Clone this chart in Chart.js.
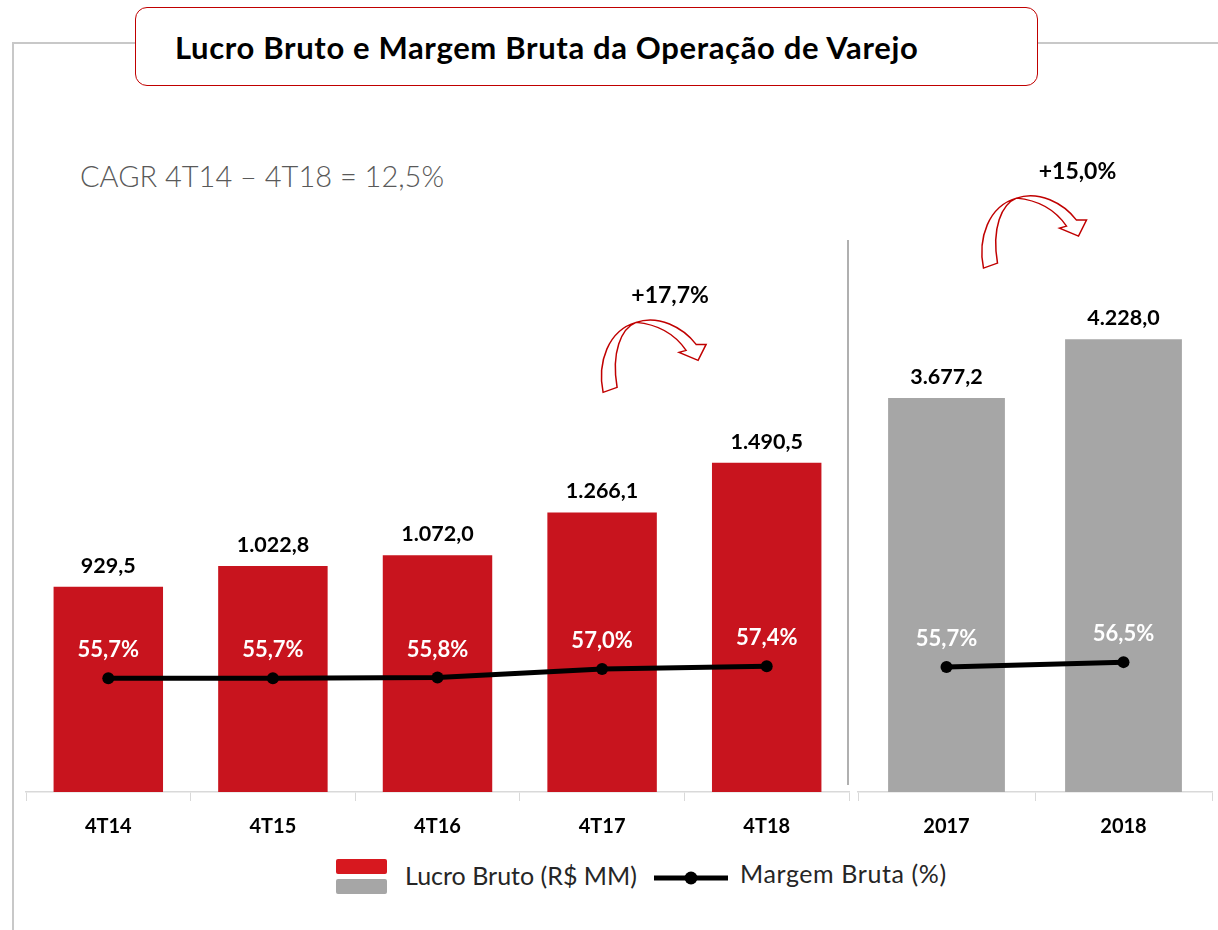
<!DOCTYPE html>
<html lang="pt-BR">
<head>
<meta charset="utf-8">
<script src="https://cdn.jsdelivr.net/npm/chart.js@4.4.1/dist/chart.umd.min.js"></script>
<style>
  body { margin: 0; width: 1218px; height: 930px; background: #fff; position: relative; overflow: hidden; font-family: Lato, 'Open Sans', sans-serif; }
  .line { position: absolute; background: #C8C8C8; }
  .title-box { position: absolute; left: 135px; top: 7px; width: 903px; height: 79px; box-sizing: border-box; border: 1.5px solid #C00000; border-radius: 12px; background: #fff; }
  .title { position: absolute; left: 175px; top: 28px; font-size: 31px; line-height: 38px; letter-spacing: 0.65px; font-weight: 700; color: #000; white-space: nowrap; }
  .cagr { position: absolute; left: 80px; top: 158px; font-size: 29px; font-weight: 300; color: #595959; white-space: nowrap; }
  .sep { position: absolute; left: 847px; top: 240px; width: 2px; height: 545px; background: #B0B0B0; }
  .chart-box { position: absolute; top: 140px; height: 710px; }
  .legend { position: absolute; top: 858px; left: 336px; height: 40px; }
  .sw { position: absolute; left: 0; width: 51px; height: 15px; border-radius: 2px; }
  .lg-text { position: absolute; font-size: 25px; color: #262626; white-space: nowrap; top: 2px; }
</style>
</head>
<body>
<div class="line" style="left:12px; top:42px; width:2px; height:900px;"></div>
<div class="line" style="left:12px; top:42px; width:126px; height:2px;"></div>
<div class="line" style="left:1036px; top:42px; width:182px; height:2px;"></div>
<div class="title-box"></div>
<div class="title">Lucro Bruto e Margem Bruta da Operação de Varejo</div>
<div class="cagr">CAGR 4T14 – 4T18 = 12,5%</div>
<div class="sep"></div>

<div class="chart-box" style="left:20px; width:835px;"><canvas id="quarterChart"></canvas></div>
<div class="chart-box" style="left:852px; width:366px;"><canvas id="yearChart"></canvas></div>

<div class="legend">
  <div class="sw" style="top:1px; background:#D7181F;"></div>
  <div class="sw" style="top:21px; background:#A6A6A6;"></div>
  <div class="lg-text" style="left:69px;">Lucro Bruto (R$ MM)</div>
  <canvas id="lineSample" width="74" height="16" style="position:absolute; left:318px; top:12px;"></canvas>
  <div class="lg-text" style="left:404px; top:0px; letter-spacing:0.6px;">Margem Bruta (%)</div>
</div>

<script>
// dados
const quarterLabels = ['4T14', '4T15', '4T16', '4T17', '4T18'];
const quarterGrossProfit = [929.5, 1022.8, 1072.0, 1266.1, 1490.5];
const quarterMargin = [55.7, 55.7, 55.8, 57.0, 57.4];

const yearLabels = ['2017', '2018'];
const yearGrossProfit = [3677.2, 4228.0];
const yearMargin = [55.7, 56.5];

const quarterGrowth = '+17,7%';
const yearGrowth = '+15,0%';

const RED = '#C8141E';
const GREY = '#A6A6A6';

function fmtNumber(v) {
  return v.toLocaleString('pt-BR', { minimumFractionDigits: 1, maximumFractionDigits: 1 });
}
function fmtPct(v) {
  return v.toLocaleString('pt-BR', { minimumFractionDigits: 1, maximumFractionDigits: 1 }) + '%';
}

// desenha a seta curva (contorno vermelho) a partir da ponta da cauda
function drawCurvedArrow(ctx, x, y) {
  ctx.save();
  ctx.translate(x, y);
  ctx.beginPath();
  ctx.moveTo(0, 0);
  ctx.bezierCurveTo(-6, -30, 5, -62, 33, -70);
  ctx.bezierCurveTo(55, -78, 80, -65, 93, -48);
  ctx.lineTo(103, -48);
  ctx.lineTo(95, -32);
  ctx.lineTo(76, -40);
  ctx.lineTo(83, -42);
  ctx.bezierCurveTo(72, -58, 55, -68, 33, -70);
  ctx.bezierCurveTo(18, -64, 8, -40, 14, -5);
  ctx.closePath();
  ctx.fillStyle = '#fff';
  ctx.fill();
  ctx.strokeStyle = '#C00000';
  ctx.lineWidth = 1.5;
  ctx.stroke();
  ctx.restore();
}

// rótulos de valores e seta de crescimento
const labelsPlugin = {
  id: 'valueLabels',
  afterDatasetsDraw(chart, args, opts) {
    const ctx = chart.ctx;
    const bars = chart.getDatasetMeta(0).data;
    const points = chart.getDatasetMeta(1).data;
    ctx.save();
    ctx.textAlign = 'center';
    ctx.textBaseline = 'middle';
    ctx.font = 'bold 21.5px Lato, sans-serif';
    bars.forEach((bar, i) => {
      ctx.fillStyle = '#000';
      ctx.fillText(fmtNumber(chart.data.datasets[0].data[i]), bar.x, bar.y - 21);
    });
    ctx.font = 'bold 22px Lato, sans-serif';
    points.forEach((pt, i) => {
      ctx.fillStyle = '#fff';
      ctx.fillText(fmtPct(chart.data.datasets[1].data[i]), pt.x, pt.y - 28);
    });
    const ref = bars[opts.index];
    drawCurvedArrow(ctx, ref.x + opts.dx, ref.y + opts.dy);
    ctx.fillStyle = '#000';
    ctx.font = 'bold 23px Lato, sans-serif';
    ctx.fillText(opts.text, ref.x + opts.tx, ref.y + opts.ty);
    ctx.restore();
  }
};

function makeChart(id, labels, bars, margins, color, yMax, y2Min, y2Max, barPct, growth) {
  return new Chart(document.getElementById(id), {
    type: 'bar',
    data: {
      labels: labels,
      datasets: [{
        type: 'bar',
        data: bars,
        backgroundColor: color,
        barPercentage: barPct,
        categoryPercentage: 1,
        yAxisID: 'y',
        order: 1
      }, {
        type: 'line',
        data: margins,
        borderColor: '#000',
        backgroundColor: '#000',
        borderWidth: 5,
        pointRadius: 6,
        pointBackgroundColor: '#000',
        pointBorderWidth: 0,
        tension: 0,
        yAxisID: 'y2',
        order: 0
      }]
    },
    options: {
      responsive: true,
      maintainAspectRatio: false,
      animation: false,
      layout: { padding: 0 },
      plugins: {
        legend: { display: false },
        tooltip: { enabled: false },
        valueLabels: growth
      },
      scales: {
        x: {
          grid: { drawOnChartArea: false, drawTicks: true, tickLength: 9, color: '#D9D9D9', offset: true },
          border: { display: true, color: '#D9D9D9', width: 1.5 },
          ticks: { color: '#000', font: { family: 'Lato', size: 20, weight: 'bold' }, padding: 14 },
          afterFit: s => { s.height = 58; }
        },
        y: { display: false, min: 0, max: yMax },
        y2: { display: false, min: y2Min, max: y2Max }
      }
    },
    plugins: [labelsPlugin]
  });
}

makeChart('quarterChart', quarterLabels, quarterGrossProfit, quarterMargin, RED, 2925, 39.77, 130.3, 0.665,
  { index: 3, dx: 1, dy: -120, tx: 68, ty: -217, text: quarterGrowth });
makeChart('yearChart', yearLabels, yearGrossProfit, yearMargin, GREY, 6031, 35.54, 139.8, 0.66,
  { index: 0, dx: 37, dy: -130, tx: 131, ty: -227, text: yearGrowth });

// amostra de linha da legenda
const lc = document.getElementById('lineSample').getContext('2d');
lc.strokeStyle = '#000';
lc.lineWidth = 5;
lc.beginPath(); lc.moveTo(0, 8); lc.lineTo(74, 8); lc.stroke();
lc.fillStyle = '#000';
lc.beginPath(); lc.arc(37, 8, 6.5, 0, Math.PI * 2); lc.fill();
</script>
</body>
</html>
